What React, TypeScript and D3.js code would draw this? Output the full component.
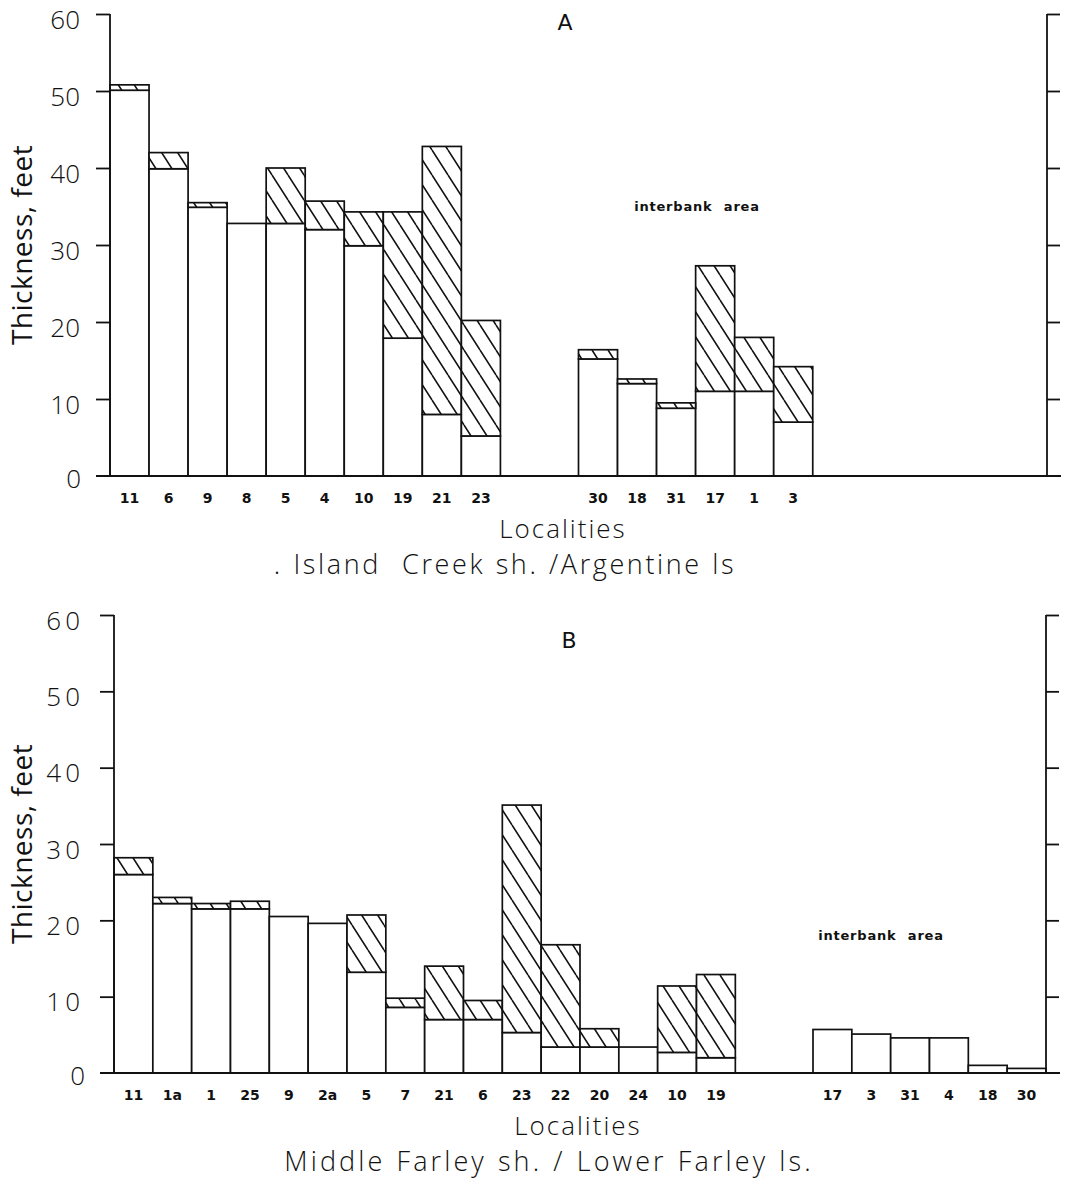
import React, { useEffect, useRef } from 'react';
import * as d3 from 'd3';

// Panel A: Island Creek sh. / Argentine ls
const bankLocA = ['11', '6', '9', '8', '5', '4', '10', '19', '21', '23'];
const bankLowerA = [50.1, 39.9, 34.9, 32.8, 32.8, 32.0, 29.9, 17.9, 8.0, 5.2];
const bankTotalA = [50.8, 42.0, 35.5, 32.8, 40.0, 35.7, 34.3, 34.3, 42.8, 20.2];
const interLocA = ['30', '18', '31', '17', '1', '3'];
const interLowerA = [15.2, 12.0, 8.8, 11.0, 11.0, 7.0];
const interTotalA = [16.4, 12.6, 9.5, 27.3, 18.0, 14.2];

// Panel B: Middle Farley sh. / Lower Farley ls.
const bankLocB = ['11', '1a', '1', '25', '9', '2a', '5', '7', '21', '6', '23', '22', '20', '24', '10', '19'];
const bankLowerB = [26.0, 22.2, 21.5, 21.5, 20.5, 19.6, 13.2, 8.6, 7.0, 7.0, 5.3, 3.4, 3.4, 3.4, 2.7, 2.0];
const bankTotalB = [28.2, 23.0, 22.2, 22.5, 20.5, 19.6, 20.7, 9.8, 14.0, 9.5, 35.1, 16.8, 5.8, 3.4, 11.4, 12.9];
const interLocB = ['17', '3', '31', '4', '18', '30'];
const interLowerB = [5.7, 5.1, 4.6, 4.6, 1.0, 0.6];
const interTotalB = [5.7, 5.1, 4.6, 4.6, 1.0, 0.6];

const yTicks = [0, 10, 20, 30, 40, 50, 60];
const slotCount = 24;
const gapSlots = 2;

const LIGHT = "'Open Sans', 'DejaVu Sans', sans-serif";
const COND = "'DejaVu Sans', sans-serif";

type Panel = {
  letter: string;
  caption: string;
  top: number;
  bottom: number;
  left: number;
  right: number;
  letterX: number;
  letterY: number;
  labelSpacing: number;
  titleX: number;
  captionX: number;
  captionSpacing: number;
  interbankX: number;
  interbankY: number;
  bankLoc: string[];
  bankLower: number[];
  bankTotal: number[];
  interLoc: string[];
  interLower: number[];
  interTotal: number[];
};

const panels: Panel[] = [
  {
    letter: 'A', caption: '. Island  Creek sh. /Argentine ls',
    top: 14, bottom: 476, left: 110, right: 1047, letterX: 565, letterY: 30,
    labelSpacing: 0, titleX: 563, captionX: 505, captionSpacing: 2.6,
    interbankX: 697, interbankY: 211,
    bankLoc: bankLocA, bankLower: bankLowerA, bankTotal: bankTotalA,
    interLoc: interLocA, interLower: interLowerA, interTotal: interTotalA,
  },
  {
    letter: 'B', caption: 'Middle Farley sh. / Lower Farley ls.',
    top: 615, bottom: 1073, left: 114, right: 1046, letterX: 569, letterY: 648,
    labelSpacing: 4, titleX: 578, captionX: 549, captionSpacing: 3.1,
    interbankX: 881, interbankY: 940,
    bankLoc: bankLocB, bankLower: bankLowerB, bankTotal: bankTotalB,
    interLoc: interLocB, interLower: interLowerB, interTotal: interTotalB,
  },
];

export default function App() {
  const svgRef = useRef<SVGSVGElement>(null);

  useEffect(() => {
    const svg = d3.select(svgRef.current);
    svg.selectAll('*').remove();

    // hatch pattern
    const defs = svg.append('defs');
    const pw = 16, ph = 25;
    const pat = defs.append('pattern')
      .attr('id', 'hatch')
      .attr('patternUnits', 'userSpaceOnUse')
      .attr('width', pw)
      .attr('height', ph);
    pat.append('rect').attr('width', pw).attr('height', ph).attr('fill', '#fff');
    pat.append('path')
      .attr('d', `M0,0L${pw},${ph}M${-pw},0L0,${ph}M${pw},0L${2 * pw},${ph}`)
      .attr('stroke', '#111')
      .attr('stroke-width', 1.6);

    panels.forEach(p => {
      const g = svg.append('g');

      const slots = d3.range(slotCount).map(String);
      const x = d3.scaleBand<string>().domain(slots).range([p.left, p.right]).padding(0);
      const y = d3.scaleLinear().domain([0, 60]).range([p.bottom, p.top]);

      const bars = [
        ...p.bankLoc.map((loc, i) => ({ loc, slot: i, lower: p.bankLower[i], total: p.bankTotal[i] })),
        ...p.interLoc.map((loc, i) => ({
          loc, slot: p.bankLoc.length + gapSlots + i, lower: p.interLower[i], total: p.interTotal[i],
        })),
      ];

      // lower (white) part
      g.selectAll('rect.lower')
        .data(bars)
        .enter()
        .append('rect')
        .attr('class', 'lower')
        .attr('x', d => x(String(d.slot))!)
        .attr('width', x.bandwidth())
        .attr('y', d => y(d.lower))
        .attr('height', d => y(0) - y(d.lower))
        .attr('fill', '#fff')
        .attr('stroke', '#111')
        .attr('stroke-width', 1.7);

      // hatched upper part
      g.selectAll('rect.upper')
        .data(bars.filter(d => d.total > d.lower))
        .enter()
        .append('rect')
        .attr('class', 'upper')
        .attr('x', d => x(String(d.slot))!)
        .attr('width', x.bandwidth())
        .attr('y', d => y(d.total))
        .attr('height', d => y(d.lower) - y(d.total))
        .attr('fill', 'url(#hatch)')
        .attr('stroke', '#111')
        .attr('stroke-width', 1.7);

      // left axis
      const left = g.append('g')
        .attr('transform', `translate(${p.left},0)`)
        .call(d3.axisLeft(y).tickValues(yTicks.slice(1)).tickSize(14).tickSizeOuter(0).tickPadding(16).tickFormat(d3.format('d')));
      left.select('.domain').attr('stroke', '#111').attr('stroke-width', 1.8)
        .attr('d', `M0,${y(0)}V${y(60)}`);
      left.selectAll('line').attr('stroke', '#111').attr('stroke-width', 1.8);
      left.selectAll('text')
        .attr('font-family', LIGHT)
        .attr('font-weight', 300)
        .attr('font-size', 26)
        .attr('letter-spacing', p.labelSpacing)
        .attr('dy', '0.54em')
        .attr('fill', '#111');

      // zero label
      g.append('text')
        .attr('x', p.left - 29)
        .attr('y', y(0))
        .attr('dy', '0.45em')
        .attr('text-anchor', 'end')
        .attr('font-family', LIGHT)
        .attr('font-weight', 300)
        .attr('font-size', 26)
        .attr('fill', '#111')
        .text('0');

      // right axis
      const right = g.append('g')
        .attr('transform', `translate(${p.right},0)`)
        .call(d3.axisRight(y).tickValues(yTicks.slice(1)).tickSize(13).tickSizeOuter(0).tickFormat(() => ''));
      right.select('.domain').attr('stroke', '#111').attr('stroke-width', 1.8)
        .attr('d', `M0,${y(0)}V${y(60)}`);
      right.selectAll('line').attr('stroke', '#111').attr('stroke-width', 1.8);

      // baseline
      g.append('line')
        .attr('x1', p.left - 14)
        .attr('x2', p.right + 14)
        .attr('y1', y(0))
        .attr('y2', y(0))
        .attr('stroke', '#111')
        .attr('stroke-width', 2);

      // locality labels
      g.selectAll('text.loc')
        .data(bars)
        .enter()
        .append('text')
        .attr('class', 'loc')
        .attr('x', d => x(String(d.slot))! + x.bandwidth() / 2)
        .attr('y', y(0) + 27)
        .attr('text-anchor', 'middle')
        .attr('font-family', COND)
        .attr('font-weight', 'bold')
        .attr('font-size', 14)
        .attr('fill', '#111')
        .text(d => d.loc);

      // panel letter
      g.append('text')
        .attr('x', p.letterX)
        .attr('y', p.letterY)
        .attr('text-anchor', 'middle')
        .attr('font-family', COND)
        .attr('font-size', 22)
        .attr('fill', '#111')
        .text(p.letter);

      // interbank note
      g.append('text')
        .attr('x', p.interbankX)
        .attr('y', p.interbankY)
        .attr('text-anchor', 'middle')
        .attr('font-family', COND)
        .attr('font-weight', 'bold')
        .attr('font-size', 13)
        .attr('letter-spacing', 0.8)
        .attr('word-spacing', 6)
        .attr('fill', '#111')
        .text('interbank area');

      // y title
      g.append('text')
        .attr('transform', `translate(32,${(p.top + p.bottom) / 2}) rotate(-90)`)
        .attr('text-anchor', 'middle')
        .attr('font-family', LIGHT)
        .attr('font-size', 28)
        .attr('letter-spacing', 0.5)
        .attr('fill', '#111')
        .text('Thickness, feet');

      // x title
      g.append('text')
        .attr('x', p.titleX)
        .attr('y', y(0) + 62)
        .attr('text-anchor', 'middle')
        .attr('font-family', LIGHT)
        .attr('font-weight', 300)
        .attr('font-size', 26)
        .attr('letter-spacing', 2)
        .attr('fill', '#111')
        .text('Localities');

      // caption
      g.append('text')
        .attr('x', p.captionX)
        .attr('y', y(0) + 98)
        .attr('text-anchor', 'middle')
        .attr('font-family', LIGHT)
        .attr('font-weight', 300)
        .attr('font-size', 27)
        .attr('letter-spacing', p.captionSpacing)
        .attr('word-spacing', 1)
        .attr('fill', '#111')
        .style('white-space', 'pre')
        .text(p.caption);
    });
  }, []);

  return (
    <svg
      ref={svgRef}
      width={1077}
      height={1190}
      style={{ position: 'absolute', left: 0, top: 0, background: '#fff' }}
    />
  );
}
